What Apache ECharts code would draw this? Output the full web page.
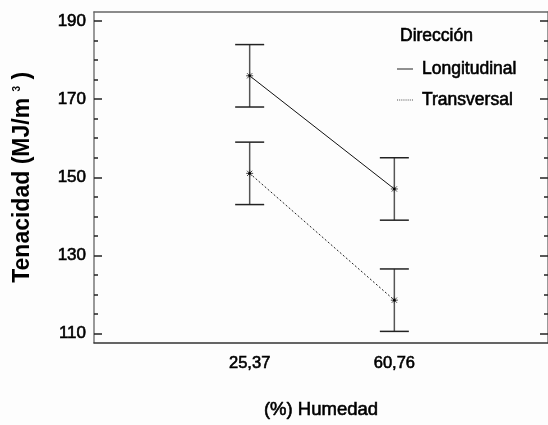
<!DOCTYPE html>
<html>
<head>
<meta charset="utf-8">
<script src="https://cdn.jsdelivr.net/npm/echarts@6/dist/echarts.min.js"></script>
<style>
  html, body { margin: 0; padding: 0; background: #fdfdfd; }
  #chart { width: 548px; height: 425px; }
</style>
</head>
<body>
<div id="chart"></div>
<script>
// Humidity levels (category labels on the x axis)
const categories = ['25,37', '60,76'];
// Mean toughness per direction, MJ/m³
const longitudinalMean = [176, 147];
const transversalMean = [151, 118.5];
// Half-width of each interval bar
const longitudinalHalf = [8, 8];
const transversalHalf = [8, 8];
// Y axis range and ticks
const yRange = [107.6, 192.35];
const yMajorTicks = [110, 130, 150, 170, 190];
const yMinorTicks = [115, 120, 125, 135, 140, 145, 155, 160, 165, 175, 180, 185];
// X axis range in category-index units
const xRange = [-1.0759, 2.062];

const FONT = 'Liberation Sans, Arial, sans-serif';
// a thin outline in the text colour gives the labels a heavier stroke
const HEAVY = { textBorderColor: '#000', textBorderWidth: 0.6 };

// legend keys: a solid rule and a dotted rule
const SOLID_KEY = 'path://M0,0H16V1H0Z';
const DOTTED_KEY = 'path://' + Array.from({ length: 8 }, (_, i) => `M${i * 2},0H${i * 2 + 1}V1H${i * 2}Z`).join(' ');

const chart = echarts.init(document.getElementById('chart'));

function pointsOf(means) {
  return means.map((v, i) => [i, v]);
}
function barsOf(means, halves) {
  return means.map((v, i) => [i, v, v - halves[i], v + halves[i]]);
}

function renderBar(params, api) {
  const x = api.value(0);
  const pm = api.coord([x, api.value(1)]);
  const pl = api.coord([x, api.value(2)]);
  const ph = api.coord([x, api.value(3)]);
  const cap = 14.5;
  const r = 3.5;
  const line = (x1, y1, x2, y2, stroke, w) => ({
    type: 'line',
    shape: { x1, y1, x2, y2 },
    style: { stroke, lineWidth: w }
  });
  const d = r * 0.75;
  return {
    type: 'group',
    children: [
      line(pl[0], pl[1], ph[0], ph[1], '#555', 1.5),
      line(ph[0] - cap, ph[1], ph[0] + cap, ph[1], '#222', 1.5),
      line(pl[0] - cap, pl[1], pl[0] + cap, pl[1], '#222', 1.5),
      line(pm[0] - r, pm[1], pm[0] + r, pm[1], '#444', 1),
      line(pm[0], pm[1] - r, pm[0], pm[1] + r, '#444', 1),
      line(pm[0] - d, pm[1] - d, pm[0] + d, pm[1] + d, '#444', 1),
      line(pm[0] - d, pm[1] + d, pm[0] + d, pm[1] - d, '#444', 1),
      { type: 'circle', shape: { cx: pm[0], cy: pm[1], r: 1.3 }, style: { fill: '#000' } }
    ]
  };
}

function yAxisBase(position, values, len, showLine) {
  return {
    type: 'value',
    position,
    min: yRange[0],
    max: yRange[1],
    axisLine: { show: showLine, onZero: false, lineStyle: { color: '#777', width: 1.5 } },
    axisTick: { show: true, inside: true, length: len, customValues: values, lineStyle: { color: '#222', width: 1.5 } },
    axisLabel: { show: false },
    splitLine: { show: false }
  };
}

const leftMajor = yAxisBase('left', yMajorTicks, 8, true);
leftMajor.axisLabel = Object.assign({
  show: true, customValues: yMajorTicks, margin: 8,
  fontSize: 17, color: '#000', fontFamily: FONT
}, HEAVY);
leftMajor.name = 'Tenacidad (MJ/m {sup|3} )';
leftMajor.nameLocation = 'middle';
leftMajor.nameRotate = 90;
leftMajor.nameGap = 60;
leftMajor.nameTextStyle = {
  fontSize: 23, fontWeight: 'bold', color: '#000', fontFamily: FONT,
  rich: { sup: { fontSize: 10, fontWeight: 'bold', fontFamily: FONT, color: '#000', padding: [0, 0, 10, 0] } }
};

const option = {
  backgroundColor: '#fdfdfd',
  animation: false,
  grid: { left: 94, top: 12, width: 455, height: 337 },
  title: {
    text: 'Dirección',
    left: 400, top: 27, padding: 0,
    textStyle: Object.assign({ fontSize: 17.5, fontWeight: 'normal', color: '#000', fontFamily: FONT }, HEAVY)
  },
  legend: {
    data: [
      { name: 'Longitudinal', icon: SOLID_KEY },
      { name: 'Transversal', icon: DOTTED_KEY }
    ],
    orient: 'vertical',
    left: 397, top: 59, padding: 0,
    itemWidth: 16, itemHeight: 1, itemGap: 11,
    symbolKeepAspect: false,
    textStyle: Object.assign({ fontSize: 17.5, lineHeight: 20, color: '#000', fontFamily: FONT, padding: [0, 0, 0, 4] }, HEAVY)
  },
  xAxis: [{
    type: 'value',
    position: 'bottom',
    min: xRange[0], max: xRange[1],
    axisLine: { show: true, onZero: false, lineStyle: { color: '#333', width: 1.5 } },
    axisTick: { show: false },
    splitLine: { show: false },
    axisLabel: Object.assign({
      customValues: categories.map((c, i) => i),
      formatter: v => categories[Math.round(v)] || '',
      margin: 12, fontSize: 16.5, color: '#000', fontFamily: FONT
    }, HEAVY),
    name: '(%) Humedad',
    nameLocation: 'middle',
    nameGap: 58,
    nameTextStyle: Object.assign({ fontSize: 18.5, color: '#000', fontFamily: FONT }, HEAVY)
  }, {
    type: 'value',
    position: 'top',
    min: xRange[0], max: xRange[1],
    axisLine: { show: true, onZero: false, lineStyle: { color: '#666', width: 1.5 } },
    axisTick: { show: false },
    axisLabel: { show: false },
    splitLine: { show: false }
  }],
  yAxis: [
    leftMajor,
    yAxisBase('left', yMinorTicks, 4, false),
    yAxisBase('right', yMajorTicks, 8, true),
    yAxisBase('right', yMinorTicks, 4, false)
  ],
  series: [
    {
      name: 'Longitudinal',
      type: 'line',
      data: pointsOf(longitudinalMean),
      symbol: 'none',
      lineStyle: { color: '#111', width: 1, type: 'solid' },
      itemStyle: { color: '#222' },
      z: 3
    },
    {
      name: 'Transversal',
      type: 'line',
      data: pointsOf(transversalMean),
      symbol: 'none',
      lineStyle: { color: '#222', width: 1, type: [2, 2] },
      itemStyle: { color: '#555' },
      z: 3
    },
    {
      name: 'Longitudinal intervalo',
      type: 'custom',
      renderItem: renderBar,
      data: barsOf(longitudinalMean, longitudinalHalf),
      z: 4
    },
    {
      name: 'Transversal intervalo',
      type: 'custom',
      renderItem: renderBar,
      data: barsOf(transversalMean, transversalHalf),
      z: 4
    }
  ]
};

chart.setOption(option);
</script>
</body>
</html>
